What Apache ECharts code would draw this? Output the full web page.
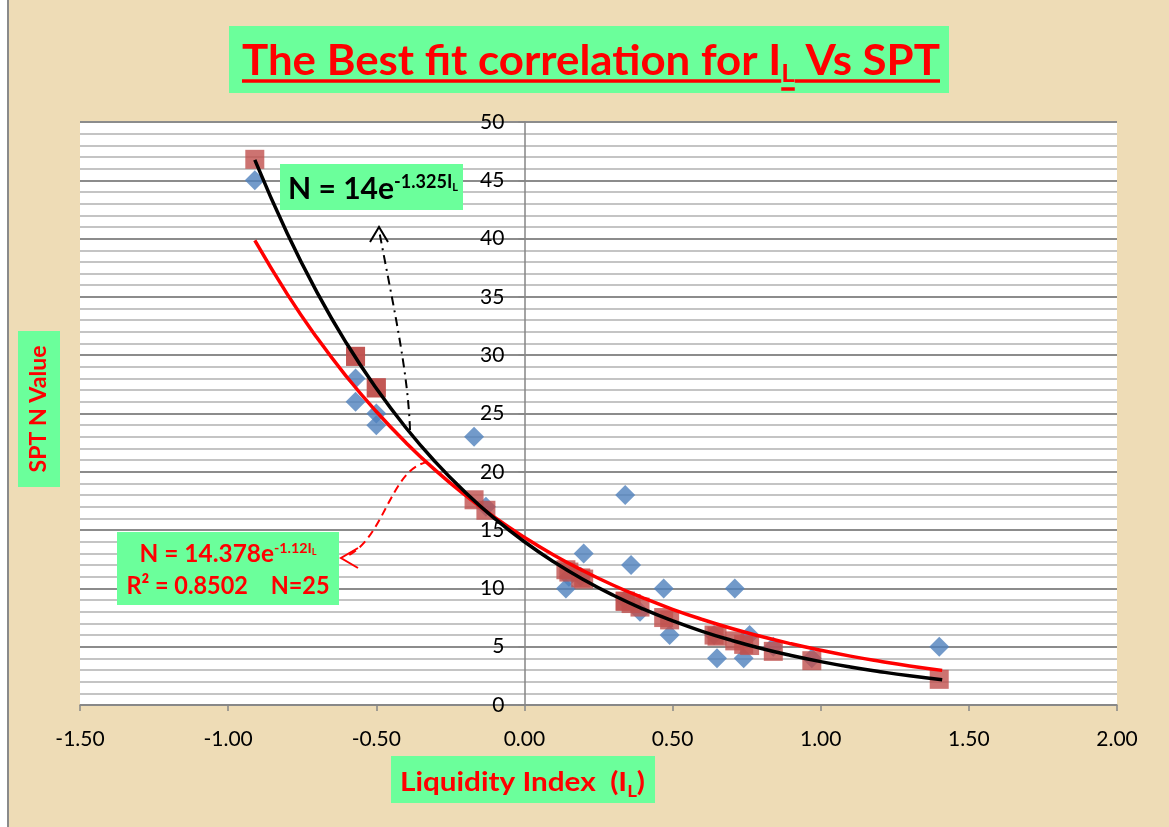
<!DOCTYPE html>
<html>
<head>
<meta charset="utf-8">
<script src="https://cdn.jsdelivr.net/npm/echarts@6/dist/echarts.min.js"></script>
<style>
  html, body { margin: 0; padding: 0; background: #eedcb6; }
  #chart { width: 1169px; height: 827px; }
</style>
</head>
<body>
<div id="chart"></div>
<script>
// Liquidity index of each sample and its measured SPT N value
const liquidityIndex = [-0.91, -0.57, -0.57, -0.50, -0.50, -0.17, -0.13, 0.14, 0.15, 0.19, 0.20,
  0.34, 0.34, 0.36, 0.39, 0.47, 0.49, 0.64, 0.65, 0.71, 0.74, 0.76, 0.84, 0.97, 1.40];
const sptMeasured = [45, 28, 26, 25, 24, 23, 17, 10, 11, 11, 13,
  18, 9, 12, 8, 10, 6, 6, 4, 10, 4, 6, 5, 4, 5];
// Best-fit N at the same liquidity index values
const sptBestFit = [46.8, 29.9, 29.9, 27.2, 27.2, 17.6, 16.7, 11.6, 11.4, 10.9, 10.8,
  8.9, 8.9, 8.7, 8.4, 7.5, 7.3, 6.0, 5.9, 5.5, 5.2, 5.1, 4.6, 3.8, 2.2];

// Points along the two trend curves
const curveX = [-0.91, -0.8, -0.7, -0.6, -0.5, -0.4, -0.3, -0.2, -0.1, 0, 0.1, 0.2,
  0.3, 0.4, 0.5, 0.6, 0.7, 0.8, 0.9, 1.0, 1.1, 1.2, 1.3, 1.41];
const curveBestFit = [46.75, 40.41, 35.39, 31.00, 27.16, 23.78, 20.83, 18.25, 15.98, 14.00, 12.26, 10.74,
  9.41, 8.24, 7.22, 6.32, 5.54, 4.85, 4.25, 3.72, 3.26, 2.86, 2.50, 2.16];
const curveTrend = [39.84, 35.22, 31.49, 28.15, 25.17, 22.50, 20.12, 17.99, 16.08, 14.38, 12.85, 11.49,
  10.27, 9.19, 8.21, 7.34, 6.56, 5.87, 5.25, 4.69, 4.19, 3.75, 3.35, 2.97];

// Axis ranges
const xRange = { min: -1.5, max: 2.0, step: 0.5 };
const yRange = { min: 0, max: 50, step: 5 };

// Texts
const titleParts = ['The Best fit correlation for I', 'L', ' Vs SPT'];
const bestFitEq = ['N = 14e', '-1.325I', 'L'];
const trendEq = ['N = 14.378e', '-1.12I', 'L'];
const trendStats = 'R\u00B2 = 0.8502    N=25';
const yName = 'SPT N Value';
const xNameParts = ['Liquidity Index  (I', 'L', ')'];

const FONT = 'Lato';
const GREEN = '#6bff9b';
const RED = '#ff0000';

const measureCtx = document.createElement('canvas').getContext('2d');
function textWidth(str, size) {
  measureCtx.font = 'bold ' + size + 'px ' + FONT;
  return measureCtx.measureText(str).width;
}

// Lay out a run of text pieces on one baseline; each piece may be raised/lowered.
// Returns the text elements plus the x extent of every piece.
function layoutRun(pieces, opts) {
  const raw = pieces.map(p => textWidth(p.t, p.size));
  const total = raw.reduce((a, b) => a + b, 0);
  const sx = opts.width ? opts.width / total : 1;
  let x = opts.center !== undefined ? opts.center - total * sx / 2 : opts.x;
  const els = [];
  const spans = [];
  pieces.forEach((p, i) => {
    els.push({
      type: 'text', x: x, y: opts.baseline + (p.shift || 0) - 0.32 * p.size,
      scaleX: sx, z: 100, silent: true,
      style: { text: p.t, font: 'bold ' + p.size + 'px ' + FONT, fill: opts.color, align: 'left', verticalAlign: 'middle' }
    });
    spans.push([x, x + raw[i] * sx]);
    x += raw[i] * sx;
  });
  return { els, spans };
}

const graphics = [];

// left edge of the sheet
graphics.push({ type: 'rect', shape: { x: 0, y: 0, width: 8, height: 827 }, style: { fill: '#ffffff' }, z: 90, silent: true });
graphics.push({ type: 'line', shape: { x1: 8, y1: 0, x2: 8, y2: 827 }, style: { stroke: '#8a8a8a', lineWidth: 2 }, z: 91, silent: true });

// Title
graphics.push({ type: 'rect', shape: { x: 229, y: 26, width: 720, height: 67 }, style: { fill: GREEN }, z: 95, silent: true });
const title = layoutRun([
  { t: titleParts[0], size: 42 },
  { t: titleParts[1], size: 25, shift: 7 },
  { t: titleParts[2], size: 42 }
], { center: 591, baseline: 75, width: 698, color: RED });
graphics.push(...title.els);
[[0, 81], [1, 89], [2, 81]].forEach(([i, y]) => {
  graphics.push({ type: 'line', shape: { x1: title.spans[i][0], y1: y, x2: title.spans[i][1], y2: y },
    style: { stroke: RED, lineWidth: 3.5 }, z: 100, silent: true });
});

// Best-fit equation
graphics.push({ type: 'rect', shape: { x: 280, y: 164, width: 183, height: 46 }, style: { fill: GREEN }, z: 95, silent: true });
graphics.push(...layoutRun([
  { t: bestFitEq[0], size: 30 },
  { t: bestFitEq[1], size: 18, shift: -11 },
  { t: bestFitEq[2], size: 11, shift: -8 }
], { x: 288, baseline: 199, width: 170, color: '#000000' }).els);

// Trend-line equation and statistics
graphics.push({ type: 'rect', shape: { x: 117, y: 532, width: 222, height: 73 }, style: { fill: GREEN }, z: 95, silent: true });
graphics.push(...layoutRun([
  { t: trendEq[0], size: 24 },
  { t: trendEq[1], size: 14, shift: -9 },
  { t: trendEq[2], size: 9, shift: -7 }
], { center: 228, baseline: 562, width: 177, color: RED }).els);
graphics.push(...layoutRun([
  { t: trendStats, size: 24 }
], { center: 228, baseline: 594, width: 203, color: RED }).els);

// Axis names
graphics.push({ type: 'rect', shape: { x: 18, y: 331, width: 42, height: 156 }, style: { fill: GREEN }, z: 95, silent: true });
const yNameW = textWidth(yName, 22);
graphics.push({
  type: 'text', x: 39, y: 409, rotation: Math.PI / 2, scaleX: 127 / yNameW, z: 100, silent: true,
  style: { text: yName, font: 'bold 22px ' + FONT, fill: RED, align: 'center', verticalAlign: 'middle' }
});
graphics.push({ type: 'rect', shape: { x: 391, y: 756, width: 264, height: 47 }, style: { fill: GREEN }, z: 95, silent: true });
graphics.push(...layoutRun([
  { t: xNameParts[0], size: 27 },
  { t: xNameParts[1], size: 17, shift: 6 },
  { t: xNameParts[2], size: 27 }
], { x: 400, baseline: 791, width: 245, color: RED }).els);

// Pointer from the black curve to its equation (dash-dot)
graphics.push({
  type: 'bezierCurve', z: 100, silent: true,
  shape: { x1: 410, y1: 430, cpx1: 408, cpy1: 370, cpx2: 392, cpy2: 300, x2: 379, y2: 230 },
  style: { stroke: '#000000', lineWidth: 2, fill: null, lineDash: [9, 5, 2, 5] }
});
graphics.push({
  type: 'polyline', z: 100, silent: true,
  shape: { points: [[370, 242], [379, 227], [388, 242]] },
  style: { stroke: '#000000', lineWidth: 2, fill: null }
});
// Pointer from the red curve to its equation (dashed)
graphics.push({
  type: 'bezierCurve', z: 100, silent: true,
  shape: { x1: 428, y1: 462, cpx1: 390, cpy1: 468, cpx2: 385, cpy2: 540, x2: 345, y2: 557 },
  style: { stroke: RED, lineWidth: 2, fill: null, lineDash: [8, 5] }
});
graphics.push({
  type: 'polyline', z: 100, silent: true,
  shape: { points: [[358, 548], [341, 558], [358, 568]] },
  style: { stroke: RED, lineWidth: 2, fill: null }
});

const chart = echarts.init(document.getElementById('chart'), null, { renderer: 'canvas' });
chart.setOption({
  animation: false,
  backgroundColor: '#eedcb6',
  textStyle: { fontFamily: FONT },
  grid: { left: 80, right: 52, top: 122, bottom: 122, show: true, backgroundColor: '#ffffff', borderWidth: 0 },
  xAxis: {
    type: 'value', min: xRange.min, max: xRange.max, interval: xRange.step,
    axisLine: { onZero: false, lineStyle: { color: '#868686', width: 1.5 } },
    axisTick: { show: true, length: 6, lineStyle: { color: '#868686', width: 1.5 } },
    axisLabel: { color: '#000', fontSize: 21, fontFamily: FONT, margin: 24, formatter: v => v.toFixed(2) },
    splitLine: { show: false }
  },
  yAxis: {
    type: 'value', min: yRange.min, max: yRange.max, interval: yRange.step,
    // the vertical axis sits at IL = 0, i.e. (0 - min) / (max - min) of the plot width
    offset: -(1169 - 80 - 52) * (0 - xRange.min) / (xRange.max - xRange.min),
    axisLine: { onZero: false, lineStyle: { color: '#868686', width: 1.5 } },
    axisTick: { show: true, length: 6, lineStyle: { color: '#868686', width: 1.5 } },
    axisLabel: { color: '#000', fontSize: 21, fontFamily: FONT, margin: 20 },
    splitLine: { show: true, lineStyle: { color: '#8c8c8c', width: 2 } },
    minorTick: { show: false, splitNumber: 5 },
    minorSplitLine: { show: true, lineStyle: { color: '#c4c4c4', width: 2 } }
  },
  series: [
    {
      name: 'Measured', type: 'scatter', symbol: 'diamond', symbolSize: 20, z: 2,
      itemStyle: { color: '#4f81bd' },
      data: liquidityIndex.map((x, i) => [x, sptMeasured[i]])
    },
    {
      name: 'Best fit', type: 'scatter', symbol: 'rect', symbolSize: 19, z: 3,
      itemStyle: { color: '#c0504d' },
      data: liquidityIndex.map((x, i) => [x, sptBestFit[i]])
    },
    {
      name: 'Trend', type: 'line', smooth: true, showSymbol: false, z: 4,
      lineStyle: { color: RED, width: 3.5 },
      data: curveX.map((x, i) => [x, curveTrend[i]])
    },
    {
      name: 'Best-fit curve', type: 'line', smooth: true, showSymbol: false, z: 5,
      lineStyle: { color: '#000000', width: 3.5 },
      data: curveX.map((x, i) => [x, curveBestFit[i]])
    }
  ],
  graphic: graphics
});
</script>
</body>
</html>
